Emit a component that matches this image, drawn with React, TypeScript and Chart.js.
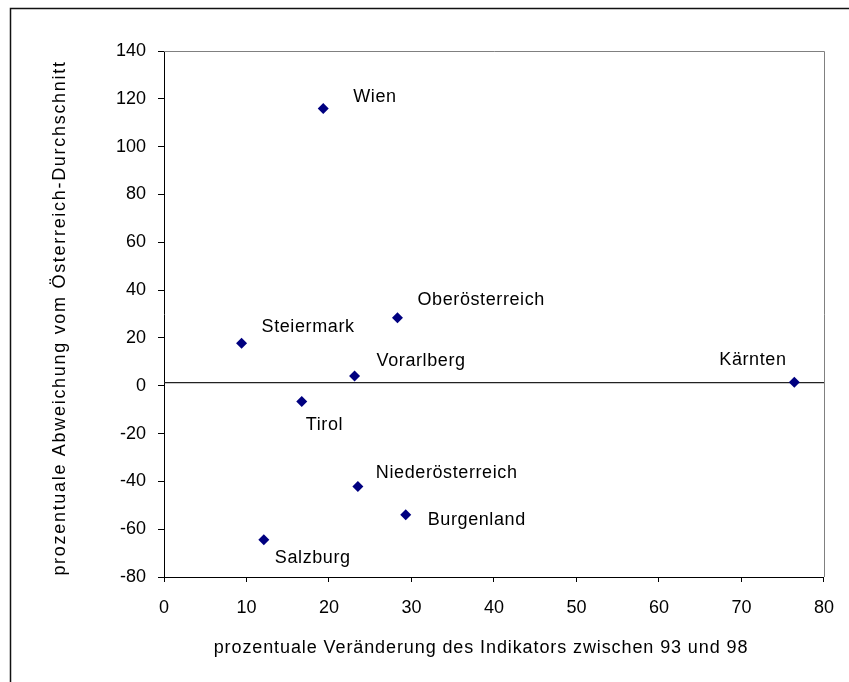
import React, { useEffect, useRef } from 'react';
import { Chart, registerables } from 'chart.js';

Chart.register(...registerables);

// Bundesländer: change of the indicator 1993–1998 vs. deviation from the Austrian average (both in %)
const regions = [
  'Wien',
  'Oberösterreich',
  'Steiermark',
  'Vorarlberg',
  'Kärnten',
  'Tirol',
  'Niederösterreich',
  'Burgenland',
  'Salzburg',
];
const changePct = [19.3, 28.3, 9.4, 23.1, 76.4, 16.7, 23.5, 29.3, 12.1];
const deviationPct = [115.9, 28.4, 17.8, 4.1, 1.5, -6.6, -42.1, -54.0, -64.4];

const xTickValues = [0, 10, 20, 30, 40, 50, 60, 70, 80];
const yTickValues = [-80, -60, -40, -20, 0, 20, 40, 60, 80, 100, 120, 140];

// horizontal reference line across the plot
const referenceLevel = 1.3;

const xTitle = 'prozentuale Veränderung des Indikators zwischen 93 und 98';
const yTitle = 'prozentuale Abweichung vom Österreich-Durchschnitt';

// where each name sits relative to its marker: [dx to text start, dy to text middle]
const labelOffsets: [number, number][] = [
  [30, -12],
  [20, -18],
  [20, -16],
  [22, -15],
  [-75, -22],
  [4, 24],
  [18, -13],
  [22, 5],
  [11, 18],
];

const FONT = '"Liberation Sans", Arial, Helvetica, sans-serif';
const FONT_SIZE = 18;

const decorPlugin = {
  id: 'decor',
  beforeDraw(chart: any) {
    const { ctx, width, height } = chart;
    ctx.save();
    ctx.fillStyle = '#ffffff';
    ctx.fillRect(0, 0, width, height);
    // outer frame (runs off the right and bottom edges)
    ctx.strokeStyle = '#111111';
    ctx.lineWidth = 1.5;
    ctx.beginPath();
    ctx.moveTo(10.5, height + 5);
    ctx.lineTo(10.5, 8.5);
    ctx.lineTo(width + 5, 8.5);
    ctx.stroke();
    ctx.restore();
  },
  beforeDatasetsDraw(chart: any) {
    const { ctx, chartArea } = chart;
    const { left, top, right, bottom } = chartArea;
    ctx.save();
    ctx.strokeStyle = '#808080';
    ctx.lineWidth = 1;
    ctx.beginPath();
    ctx.moveTo(left, Math.round(top) + 0.5);
    ctx.lineTo(Math.round(right) + 0.5, Math.round(top) + 0.5);
    ctx.lineTo(Math.round(right) + 0.5, bottom);
    ctx.stroke();
    ctx.restore();
  },
  afterDatasetsDraw(chart: any) {
    const { ctx, scales } = chart;
    const xs = scales.x;
    const ys = scales.y;
    ctx.save();
    ctx.fillStyle = '#000000';
    ctx.font = `${FONT_SIZE}px ${FONT}`;
    (ctx as any).letterSpacing = '0.6px';
    ctx.textBaseline = 'middle';
    ctx.textAlign = 'left';
    regions.forEach((name, i) => {
      const px = xs.getPixelForValue(changePct[i]);
      const py = ys.getPixelForValue(deviationPct[i]);
      const [dx, dy] = labelOffsets[i];
      ctx.fillText(name, px + dx, py + dy);
    });

    // axis titles
    ctx.textAlign = 'center';
    (ctx as any).letterSpacing = '0.9px';
    ctx.fillText(xTitle, 481, 648);
    (ctx as any).letterSpacing = '1.7px';
    ctx.translate(60, 318);
    ctx.rotate(-Math.PI / 2);
    ctx.fillText(yTitle, 0, 0);
    ctx.restore();
  },
};

export default function App() {
  const canvasRef = useRef<HTMLCanvasElement>(null);

  useEffect(() => {
    const canvas = canvasRef.current;
    if (!canvas) return;

    const points = changePct.map((x, i) => ({ x, y: deviationPct[i] }));

    const chart = new Chart(canvas, {
      type: 'scatter',
      data: {
        datasets: [
          {
            label: 'Bundesländer',
            data: points,
            pointStyle: 'rectRot',
            pointRadius: 5.5,
            pointHoverRadius: 5.5,
            backgroundColor: '#000080',
            borderColor: '#000080',
            borderWidth: 0,
          },
          {
            label: 'Referenz',
            data: [
              { x: xTickValues[0], y: referenceLevel },
              { x: xTickValues[xTickValues.length - 1], y: referenceLevel },
            ],
            showLine: true,
            pointRadius: 0,
            borderColor: '#222222',
            borderWidth: 1.2,
          },
        ],
      },
      options: {
        animation: false,
        responsive: false,
        devicePixelRatio: 1,
        events: [],
        layout: { padding: { top: 51, right: 23, bottom: 0, left: 0 } },
        plugins: {
          legend: { display: false },
          tooltip: { enabled: false },
        },
        scales: {
          x: {
            type: 'linear',
            min: 0,
            max: 80,
            afterBuildTicks: (s: any) => {
              s.ticks = xTickValues.map((value) => ({ value }));
            },
            afterFit: (s: any) => {
              s.height = 105;
            },
            grid: {
              drawOnChartArea: false,
              drawTicks: true,
              tickLength: 5,
              color: '#000000',
              lineWidth: 1,
            },
            border: { display: true, color: '#000000', width: 1 },
            ticks: {
              font: { family: FONT, size: FONT_SIZE },
              color: '#000000',
              padding: 15,
              maxRotation: 0,
              autoSkip: false,
            },
          },
          y: {
            type: 'linear',
            min: -80,
            max: 140,
            afterBuildTicks: (s: any) => {
              s.ticks = yTickValues.map((value) => ({ value }));
            },
            afterFit: (s: any) => {
              s.width = 164;
            },
            grid: {
              drawOnChartArea: false,
              drawTicks: true,
              tickLength: 6,
              color: '#000000',
              lineWidth: 1,
            },
            border: { display: true, color: '#000000', width: 1 },
            ticks: {
              font: { family: FONT, size: FONT_SIZE },
              color: '#000000',
              padding: 12,
              autoSkip: false,
            },
          },
        },
      },
      plugins: [decorPlugin],
    } as any);

    return () => chart.destroy();
  }, []);

  return (
    <div
      style={{
        position: 'absolute',
        left: 0,
        top: 0,
        width: 849,
        height: 682,
        background: '#ffffff',
      }}
    >
      <canvas
        ref={canvasRef}
        width={849}
        height={682}
        style={{ display: 'block', width: 849, height: 682 }}
      />
    </div>
  );
}
